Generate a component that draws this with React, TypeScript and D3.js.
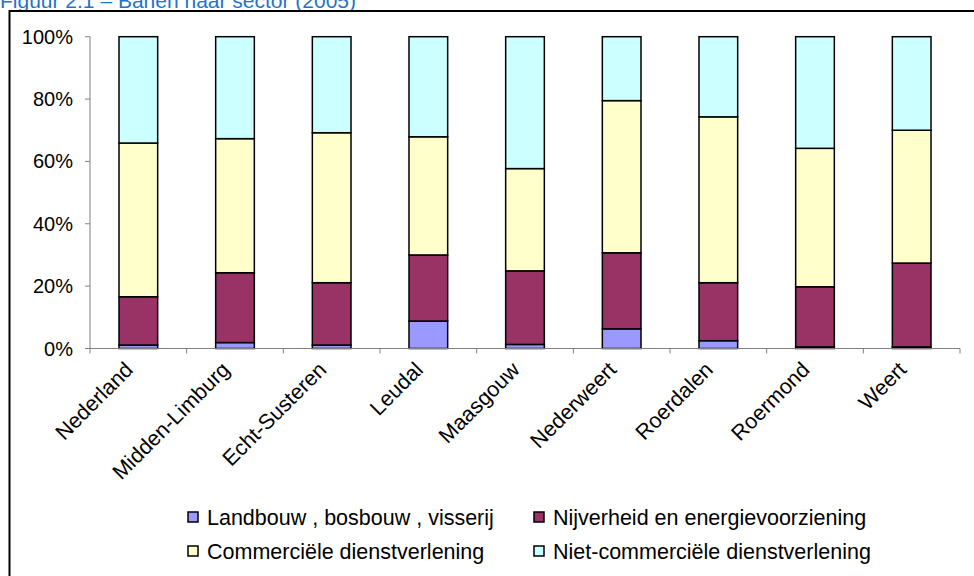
import React from "react";
import * as d3 from "d3";

// Werkgelegenheid per sector, aandeel in procenten per gebied
const categories = [
  "Nederland",
  "Midden-Limburg",
  "Echt-Susteren",
  "Leudal",
  "Maasgouw",
  "Nederweert",
  "Roerdalen",
  "Roermond",
  "Weert",
];
const landbouw = [1.1, 1.9, 1.1, 8.8, 1.3, 6.3, 2.5, 0.5, 0.5];
const nijverheid = [15.5, 22.4, 20.0, 21.2, 23.6, 24.4, 18.6, 19.3, 26.9];
const commercieel = [49.3, 43.0, 48.1, 37.9, 32.8, 48.8, 53.2, 44.4, 42.6];
const nietCommercieel = [34.1, 32.7, 30.8, 32.1, 42.3, 20.5, 25.7, 35.8, 30.0];

const seriesNames = [
  "Landbouw , bosbouw , visserij",
  "Nijverheid en energievoorziening",
  "Commerciële dienstverlening",
  "Niet-commerciële dienstverlening",
];
const seriesColors = ["#9999FF", "#993366", "#FFFFCC", "#CCFFFF"];
const yTicks = [0, 20, 40, 60, 80, 100];
const title = "Figuur 2.1 – Banen naar sector (2005)";

const W = 974;
const H = 576;
const FONT = "Arial, 'Liberation Sans', sans-serif";

export default function App() {
  const keys = ["l", "n", "c", "nc"];
  const rows = categories.map((cat, i) => ({
    cat,
    l: landbouw[i],
    n: nijverheid[i],
    c: commercieel[i],
    nc: nietCommercieel[i],
  }));
  const stacked = d3.stack<any>().keys(keys)(rows);

  const x = d3
    .scaleBand<string>()
    .domain(categories)
    .range([90, 960])
    .paddingInner(0.6)
    .paddingOuter(0.3);
  const y = d3.scaleLinear().domain([0, 100]).range([348.5, 36.7]);
  const step = x.step();
  const x0 = 90;

  const legendItems = [
    { i: 0, lx: 188, ly: 517 },
    { i: 1, lx: 534, ly: 517 },
    { i: 2, lx: 188, ly: 551 },
    { i: 3, lx: 534, ly: 551 },
  ];

  return (
    <svg
      width={W}
      height={H}
      style={{ position: "absolute", left: 0, top: 0, background: "#fff" }}
      fontFamily={FONT}
    >
      {/* titel, valt deels boven de rand */}
      <text x={0} y={7.5} fontSize={21} fill="#1F74C8">
        {title}
      </text>
      {/* kader */}
      <rect x={9.5} y={11} width={1100} height={700} fill="none" stroke="#000" strokeWidth={2} />

      {/* gestapelde staven */}
      {stacked.map((s, si) =>
        s.map((d, di) => (
          <rect
            key={`${si}-${di}`}
            x={x(categories[di])}
            width={x.bandwidth()}
            y={y(d[1])}
            height={Math.max(0, y(d[0]) - y(d[1]))}
            fill={seriesColors[si]}
            stroke="#000"
            strokeWidth={1.5}
          />
        ))
      )}

      {/* y-as */}
      <line x1={x0} x2={x0} y1={y(100)} y2={y(0)} stroke="#808080" strokeWidth={1} />
      {yTicks.map((t) => (
        <g key={t}>
          <line x1={x0 - 5} x2={x0} y1={y(t)} y2={y(t)} stroke="#808080" strokeWidth={1} />
          <text x={73} y={y(t)} dy="0.35em" textAnchor="end" fontSize={20} fill="#000">
            {t}%
          </text>
        </g>
      ))}

      {/* x-as */}
      <line x1={x0} x2={960} y1={y(0)} y2={y(0)} stroke="#808080" strokeWidth={1} />
      {d3.range(categories.length + 1).map((i) => (
        <line
          key={i}
          x1={x0 + i * step}
          x2={x0 + i * step}
          y1={y(0)}
          y2={y(0) + 5}
          stroke="#808080"
          strokeWidth={1}
        />
      ))}
      {categories.map((c) => {
        const cx = (x(c) as number) + x.bandwidth() / 2;
        const px = cx - 4;
        const py = 371;
        return (
          <text
            key={c}
            x={px}
            y={py}
            textAnchor="end"
            fontSize={21.5}
            transform={`rotate(-45 ${px} ${py})`}
            fill="#000"
          >
            {c}
          </text>
        );
      })}

      {/* legenda */}
      {legendItems.map(({ i, lx, ly }) => (
        <g key={i}>
          <rect x={lx} y={ly - 5} width={10} height={10} fill={seriesColors[i]} stroke="#000" strokeWidth={1.5} />
          <text x={lx + 19} y={ly} dy="0.35em" fontSize={21.5} fill="#000">
            {seriesNames[i]}
          </text>
        </g>
      ))}
    </svg>
  );
}
